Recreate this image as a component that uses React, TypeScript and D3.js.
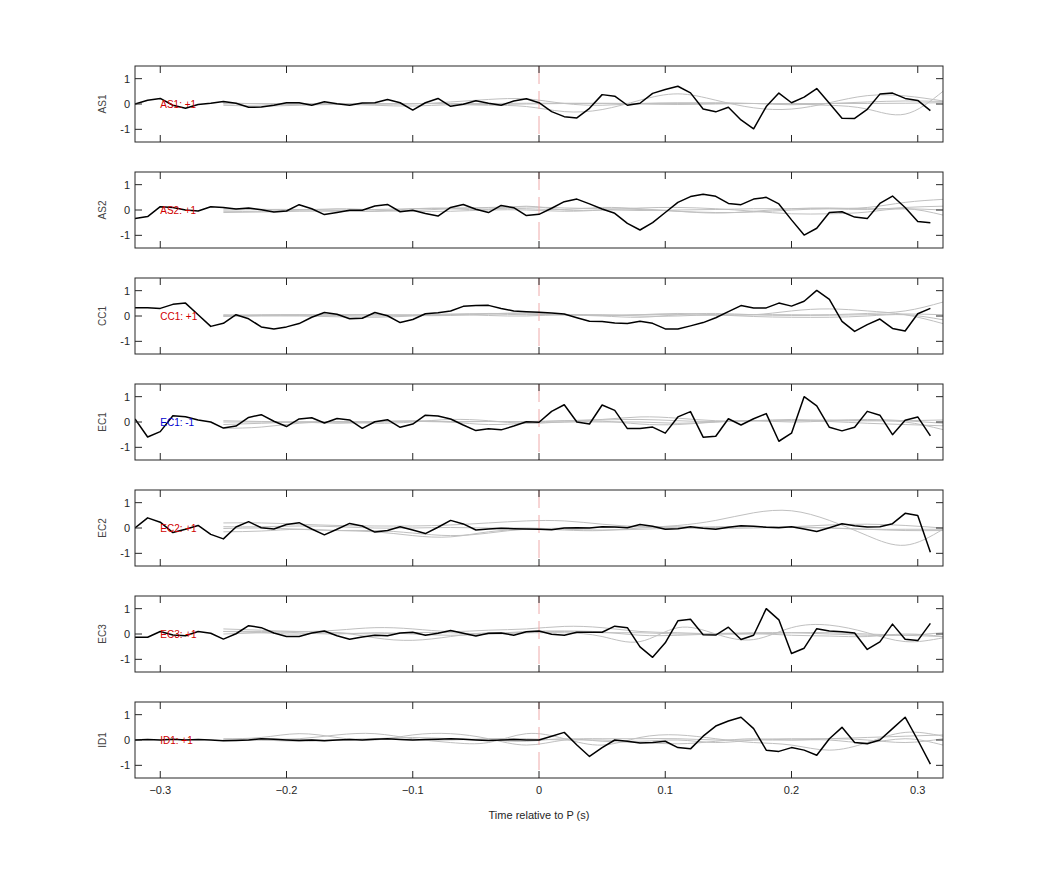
import * as d3 from 'd3';
import { useEffect, useRef } from 'react';

// sample grid of the black traces (s)
const times = d3.range(64).map((i) => Math.round((-0.32 + i * 0.01) * 100) / 100);
// knots of the grey traces (s)
const greyTimes = d3.range(20).map((i) => Math.round((-0.25 + i * 0.03) * 100) / 100);

const channels = ['AS1', 'AS2', 'CC1', 'EC1', 'EC2', 'EC3', 'ID1'];
const signs = ['+1', '+1', '+1', '-1', '+1', '+1', '+1'];

const blackAS1 = [
  0, 0.15, 0.22, -0.05, -0.17, -0.02, 0.03, 0.1, 0.03, -0.13,
  -0.12, -0.05, 0.05, 0.05, -0.05, 0.09, 0.01, -0.05, 0.04, 0.05,
  0.18, 0.05, -0.24, 0.05, 0.22, -0.09, -0.01, 0.13, 0.03, -0.05,
  0.12, 0.21, 0.05, -0.3, -0.5, -0.55, -0.17, 0.37, 0.31, -0.05,
  0.03, 0.42, 0.57, 0.7, 0.44, -0.2, -0.31, -0.13, -0.63, -0.98,
  -0.1, 0.43, 0.05, 0.27, 0.61, 0.03, -0.56, -0.57, -0.21, 0.39,
  0.43, 0.22, 0.14, -0.26,
];
const blackAS2 = [
  -0.34, -0.26, 0.13, 0.1, 0, -0.04, 0.13, 0.1, 0.04, 0.08,
  0.01, -0.08, -0.04, 0.21, 0.05, -0.18, -0.1, -0.01, -0.01, 0.16,
  0.22, -0.07, -0.01, -0.14, -0.24, 0.1, 0.22, 0.03, -0.1, 0.18,
  0.09, -0.22, -0.17, 0.07, 0.33, 0.43, 0.24, 0.04, -0.13, -0.53,
  -0.79, -0.5, -0.1, 0.3, 0.53, 0.62, 0.54, 0.26, 0.21, 0.43,
  0.5, 0.24, -0.39, -0.99, -0.72, -0.1, -0.07, -0.28, -0.34, 0.26,
  0.55, 0.1, -0.45, -0.5,
];
const blackCC1 = [
  0.33, 0.33, 0.3, 0.46, 0.51, 0.05, -0.41, -0.29, 0.05, -0.11,
  -0.43, -0.51, -0.43, -0.3, -0.05, 0.14, 0.07, -0.11, -0.09, 0.14,
  0.01, -0.26, -0.14, 0.09, 0.13, 0.2, 0.38, 0.41, 0.42, 0.3,
  0.2, 0.17, 0.15, 0.12, 0.08, -0.07, -0.21, -0.22, -0.28, -0.3,
  -0.21, -0.29, -0.51, -0.51, -0.39, -0.26, -0.07, 0.17, 0.41, 0.32,
  0.32, 0.51, 0.39, 0.58, 1.01, 0.66, -0.21, -0.61, -0.34, -0.12,
  -0.49, -0.59, 0.09, 0.3,
];
const blackEC1 = [
  0.12, -0.59, -0.38, 0.25, 0.21, 0.08, 0, -0.24, -0.16, 0.18,
  0.29, 0.03, -0.18, 0.12, 0.17, -0.04, 0.14, 0.08, -0.25, 0.01,
  0.09, -0.21, -0.08, 0.27, 0.24, 0.12, -0.12, -0.34, -0.27, -0.31,
  -0.16, 0.01, -0.01, 0.42, 0.68, 0, -0.08, 0.67, 0.46, -0.26,
  -0.26, -0.2, -0.44, 0.2, 0.41, -0.6, -0.56, 0.13, -0.12, 0.13,
  0.33, -0.76, -0.44, 1.0, 0.64, -0.21, -0.35, -0.21, 0.42, 0.27,
  -0.5, 0.07, 0.2, -0.55,
];
const blackEC2 = [
  0, 0.4, 0.23, -0.18, -0.05, 0.1, -0.25, -0.43, 0.04, 0.25,
  0.01, -0.04, 0.14, 0.21, -0.04, -0.27, -0.05, 0.18, 0.08, -0.16,
  -0.1, 0.05, -0.08, -0.22, 0.03, 0.3, 0.16, -0.08, -0.04, -0.01,
  -0.03, -0.04, -0.05, -0.07, 0, 0.01, 0, 0.05, 0.04, 0.01,
  0.14, 0.07, -0.05, -0.03, 0.05, -0.01, -0.05, 0.03, 0.09, 0.07,
  0.03, 0.01, 0.05, -0.04, -0.14, 0.01, 0.17, 0.09, 0.04, 0.05,
  0.17, 0.58, 0.49, -0.96,
];
const blackEC3 = [
  -0.13, -0.13, 0.1, -0.04, -0.07, 0.1, 0.03, -0.2, 0.01, 0.33,
  0.25, 0.04, -0.1, -0.1, 0.04, 0.12, -0.07, -0.21, -0.12, -0.05,
  -0.07, 0.04, 0.07, -0.05, 0.03, 0.14, 0.03, -0.08, 0.03, 0.04,
  -0.05, 0.09, 0.12, -0.01, -0.05, 0.07, 0.07, 0.07, 0.31, 0.25,
  -0.51, -0.92, -0.35, 0.52, 0.58, -0.03, -0.04, 0.27, -0.22, -0.05,
  1.0, 0.56, -0.77, -0.56, 0.21, 0.12, 0.09, 0.04, -0.61, -0.31,
  0.39, -0.21, -0.26, 0.42,
];
const blackID1 = [
  0.0, 0.02, 0.0, 0.03, 0.0, 0.02, 0.0, -0.03, -0.02, 0.0,
  0.05, 0.03, 0.0, -0.02, 0.0, -0.03, 0.0, 0.02, 0.0, 0.03,
  0.05, 0.02, 0.0, 0.02, 0.03, 0.05, 0.03, 0.0, -0.02, 0.0,
  0.02, 0.0, 0.0, 0.15, 0.3, -0.2, -0.65, -0.3, 0.0, -0.05,
  -0.12, -0.1, -0.05, -0.3, -0.35, 0.15, 0.55, 0.75, 0.9, 0.45,
  -0.4, -0.45, -0.3, -0.4, -0.6, 0.05, 0.5, -0.1, -0.15, 0.0,
  0.45, 0.9, 0.0, -0.95,
];

const greyAS1 = [
  [0.02, 0.02, 0.02, 0.02, 0.02, 0.02, 0.02, 0.02, 0.03, 0.03, 0.03, 0.02, 0.02, 0.02, 0.02, 0.02, 0.02, 0.02, 0.03, 0.05],
  [0.05, 0, -0.03, 0, 0, 0, 0.08, 0.18, 0.2, 0.02, -0.05, 0.02, 0.05, 0.05, 0.02, -0.03, 0.02, 0.08, 0.12, 0.1],
  [-0.05, -0.08, -0.05, -0.02, -0.05, -0.08, -0.03, -0.05, -0.1, -0.3, -0.22, 0.15, 0.4, 0.15, -0.15, -0.2, 0.05, 0.33, 0.32, 0.12],
  [0, 0.02, 0, -0.02, 0, 0.02, 0, -0.02, 0, 0.02, 0.02, 0, -0.02, 0, 0.02, 0, -0.05, -0.2, -0.4, 0.5],
];
const greyAS2 = [
  [-0.1, -0.08, -0.05, -0.05, -0.05, -0.02, 0.05, 0.1, 0.12, 0.08, 0.05, 0.02, -0.05, -0.1, -0.08, 0, 0.05, 0.1, 0.3, 0.42],
  [0, 0.02, 0.02, -0.02, -0.05, 0.05, 0.08, 0.08, 0.05, 0.02, 0.1, 0.05, -0.05, -0.12, -0.05, 0.05, 0.08, 0.05, 0.05, 0.0],
  [0.05, 0.03, 0, 0.05, 0, -0.05, -0.05, 0, 0, -0.05, 0, 0.08, 0.1, 0.05, -0.05, -0.15, -0.15, -0.08, 0.05, -0.2],
  [-0.05, -0.05, 0, 0, 0.02, 0.05, 0.05, 0.02, 0.15, 0, 0, -0.02, 0, 0.02, 0.05, 0.05, 0.05, 0.02, 0.1, 0.15],
];
const greyCC1 = [
  [0, 0.03, 0.05, 0.05, 0.05, 0.05, 0.08, 0.08, 0.05, 0.05, 0.03, 0.05, 0.05, 0.03, 0.05, 0.05, 0.05, 0.1, 0.2, 0.55],
  [0.02, 0.05, 0.05, 0.02, 0, 0.02, 0.05, 0.1, 0.08, 0.05, 0.05, 0, 0, 0.05, 0.05, 0.2, 0.28, 0.2, 0.05, -0.3],
  [-0.02, 0, 0, -0.03, -0.05, 0, 0.05, 0.02, 0, 0.05, 0.02, 0.05, 0.1, 0.05, -0.02, -0.05, -0.05, 0, 0.05, -0.15],
  [0.05, 0.02, 0.02, 0.05, 0.05, 0.02, 0.02, 0.08, 0.12, 0.05, 0, -0.05, 0.05, 0.1, 0.05, 0.02, 0.03, 0.05, 0.08, 0.05],
];
const greyEC1 = [
  [-0.25, -0.2, -0.05, 0, 0.02, 0.03, 0, 0.02, 0, 0.05, 0.1, 0.2, 0.15, 0.05, 0.05, 0.1, 0.05, 0.05, 0, -0.3],
  [0, 0, 0, 0.02, 0, 0.02, 0.02, 0.02, 0.02, 0.05, 0.08, 0.1, 0.05, 0.02, 0.05, 0.05, 0.08, 0.05, 0.05, 0.08],
  [-0.1, -0.05, 0, 0, -0.05, 0, 0.1, 0.05, -0.05, 0, 0, 0, -0.05, 0, 0.05, 0.05, 0.02, -0.05, -0.1, -0.15],
  [0.05, 0.02, 0, -0.05, 0, 0.05, 0, -0.1, -0.05, 0, 0.03, -0.08, -0.1, 0, 0.05, 0, 0.05, 0.1, 0.05, -0.05],
];
const greyEC2 = [
  [0.2, 0.2, 0.15, 0.1, 0.08, 0.08, 0.12, 0.2, 0.28, 0.28, 0.15, 0.05, 0.0, -0.02, 0, 0.05, 0.12, 0.15, 0.1, 0.0],
  [-0.02, 0, -0.05, -0.1, -0.1, -0.2, -0.3, -0.2, -0.05, -0.08, -0.1, 0, 0.1, 0.3, 0.6, 0.68, 0.3, -0.3, -0.68, -0.05],
  [-0.15, -0.12, -0.05, -0.1, -0.15, -0.3, -0.35, -0.15, -0.05, 0, 0.02, 0.05, 0.05, 0.02, 0.05, 0.05, 0, -0.05, -0.05, -0.05],
  [0.05, 0.05, 0.08, 0.05, 0, 0, 0.02, 0, 0, -0.05, -0.08, -0.05, 0, 0.05, 0.05, 0.02, 0, -0.05, -0.1, -0.1],
];
const greyEC3 = [
  [0.2, 0.15, 0.1, 0.15, 0.25, 0.2, 0.1, 0.15, 0.2, 0.3, 0.25, 0.1, 0.05, 0, 0, 0.05, 0.05, 0, -0.05, -0.1],
  [0.1, 0.05, 0.0, 0.05, -0.15, -0.25, -0.1, 0.05, 0.05, 0.05, -0.1, -0.3, 0.25, 0.0, -0.22, 0.25, 0.35, 0.05, -0.3, -0.15],
  [0.0, 0.05, 0.1, 0.05, 0, 0.05, 0.05, 0, 0.05, 0.1, 0.05, 0.05, 0.0, 0.02, 0.05, 0.05, 0, -0.05, -0.05, 0.05],
  [0.1, 0.1, 0.05, 0, 0.05, 0, -0.05, 0.0, 0.1, 0.12, 0.08, -0.05, -0.05, 0.0, 0.02, -0.05, -0.08, -0.1, 0, -0.1],
];
const greyID1 = [
  [0.05, 0.1, 0.25, 0.1, 0, 0.2, 0.25, 0.05, -0.2, 0, 0.05, 0.05, 0.05, 0, 0, 0, 0.05, 0.1, 0.15, 0.2],
  [0, 0, 0.05, 0.2, 0.25, 0.05, -0.1, -0.1, 0.25, 0.05, -0.2, 0.1, 0.2, 0.05, -0.1, -0.2, -0.4, -0.1, 0.3, 0.15],
  [0, 0, -0.05, 0, 0.05, 0, 0, 0.05, 0.05, 0, 0, -0.05, 0, -0.1, 0, 0.05, 0.05, 0, -0.1, 0.05],
  [0, 0.05, 0.02, 0, 0.05, 0.1, 0.05, 0, -0.05, 0.05, -0.05, -0.1, -0.15, -0.05, 0.05, 0, 0, -0.1, 0.05, -0.2],
];

const blacks = [blackAS1, blackAS2, blackCC1, blackEC1, blackEC2, blackEC3, blackID1];
const greys = [greyAS1, greyAS2, greyCC1, greyEC1, greyEC2, greyEC3, greyID1];

const xTicks = [-0.3, -0.2, -0.1, 0, 0.1, 0.2, 0.3];
const yTicks = [-1, 0, 1];

const W = 1042;
const H = 875;
const left = 135;
const right = 943;
const firstTop = 66;
const panelStep = 106;
const panelH = 76;
const font = '"Liberation Sans", Arial, sans-serif';
const ink = '#262626';

const App = () => {
  const ref = useRef<SVGSVGElement>(null);

  useEffect(() => {
    const svg = d3.select(ref.current);
    svg.selectAll('*').remove();

    const x = d3.scaleLinear().domain([-0.32, 0.32]).range([left, right]);
    const fmt = (d) => (d === 0 ? '0' : d3.format('.1f')(d));

    channels.forEach((name, i) => {
      const top = firstTop + i * panelStep;
      const y = d3.scaleLinear().domain([-1.5, 1.5]).range([top + panelH, top]);
      const g = svg.append('g');

      // clip traces to the axes box
      const clipId = `clip-${i}`;
      g.append('clipPath')
        .attr('id', clipId)
        .append('rect')
        .attr('x', left)
        .attr('y', top)
        .attr('width', right - left)
        .attr('height', panelH);

      const plot = g.append('g').attr('clip-path', `url(#${clipId})`);

      const greyLine = d3
        .line<number>()
        .x((_, k) => x(greyTimes[k]))
        .y((d) => y(d))
        .curve(d3.curveNatural);

      greys[i].forEach((series) => {
        plot
          .append('path')
          .datum(series)
          .attr('fill', 'none')
          .attr('stroke', '#c0c0c0')
          .attr('stroke-width', 1)
          .attr('d', greyLine);
      });

      // stimulus onset
      plot
        .append('line')
        .attr('x1', x(0))
        .attr('x2', x(0))
        .attr('y1', top)
        .attr('y2', top + panelH)
        .attr('stroke', '#eeaaaa')
        .attr('stroke-width', 1)
        .attr('stroke-dasharray', '18 7');

      const blackLine = d3
        .line<number>()
        .x((_, k) => x(times[k]))
        .y((d) => y(d));

      plot
        .append('path')
        .datum(blacks[i])
        .attr('fill', 'none')
        .attr('stroke', '#000')
        .attr('stroke-width', 1.5)
        .attr('stroke-linejoin', 'round')
        .attr('d', blackLine);

      g.append('text')
        .attr('x', x(-0.3))
        .attr('y', y(0))
        .attr('dy', '0.35em')
        .attr('font-family', font)
        .attr('font-size', 10)
        .attr('fill', signs[i] === '-1' ? '#0000d0' : '#d00000')
        .text(`${name}: ${signs[i]}`);

      // axes box
      g.append('rect')
        .attr('x', left)
        .attr('y', top)
        .attr('width', right - left)
        .attr('height', panelH)
        .attr('fill', 'none')
        .attr('stroke', ink)
        .attr('stroke-width', 1);

      const tickLen = 7;
      xTicks.forEach((t) => {
        g.append('line')
          .attr('x1', x(t)).attr('x2', x(t))
          .attr('y1', top).attr('y2', top + tickLen)
          .attr('stroke', ink);
        g.append('line')
          .attr('x1', x(t)).attr('x2', x(t))
          .attr('y1', top + panelH).attr('y2', top + panelH - tickLen)
          .attr('stroke', ink);
      });
      yTicks.forEach((v) => {
        g.append('line')
          .attr('x1', left).attr('x2', left + tickLen)
          .attr('y1', y(v)).attr('y2', y(v))
          .attr('stroke', ink);
        g.append('line')
          .attr('x1', right).attr('x2', right - tickLen)
          .attr('y1', y(v)).attr('y2', y(v))
          .attr('stroke', ink);
        g.append('text')
          .attr('x', left - 5)
          .attr('y', y(v))
          .attr('dy', '0.35em')
          .attr('text-anchor', 'end')
          .attr('font-family', font)
          .attr('font-size', 11)
          .attr('fill', ink)
          .text(v);
      });

      g.append('text')
        .attr('transform', `translate(106,${y(0)}) rotate(-90)`)
        .attr('text-anchor', 'middle')
        .attr('font-family', font)
        .attr('font-size', 10)
        .attr('fill', '#444')
        .text(name);

      if (i === channels.length - 1) {
        xTicks.forEach((t) => {
          g.append('text')
            .attr('x', x(t))
            .attr('y', top + panelH + 16)
            .attr('text-anchor', 'middle')
            .attr('font-family', font)
            .attr('font-size', 11)
            .attr('fill', ink)
            .text(fmt(t));
        });
        g.append('text')
          .attr('x', x(0))
          .attr('y', top + panelH + 41)
          .attr('text-anchor', 'middle')
          .attr('font-family', font)
          .attr('font-size', 11)
          .attr('fill', ink)
          .text('Time relative to P (s)');
      }
    });
  }, []);

  return (
    <svg
      ref={ref}
      width={W}
      height={H}
      style={{ position: 'absolute', left: 0, top: 0, background: '#fff' }}
    />
  );
};

export default App;
